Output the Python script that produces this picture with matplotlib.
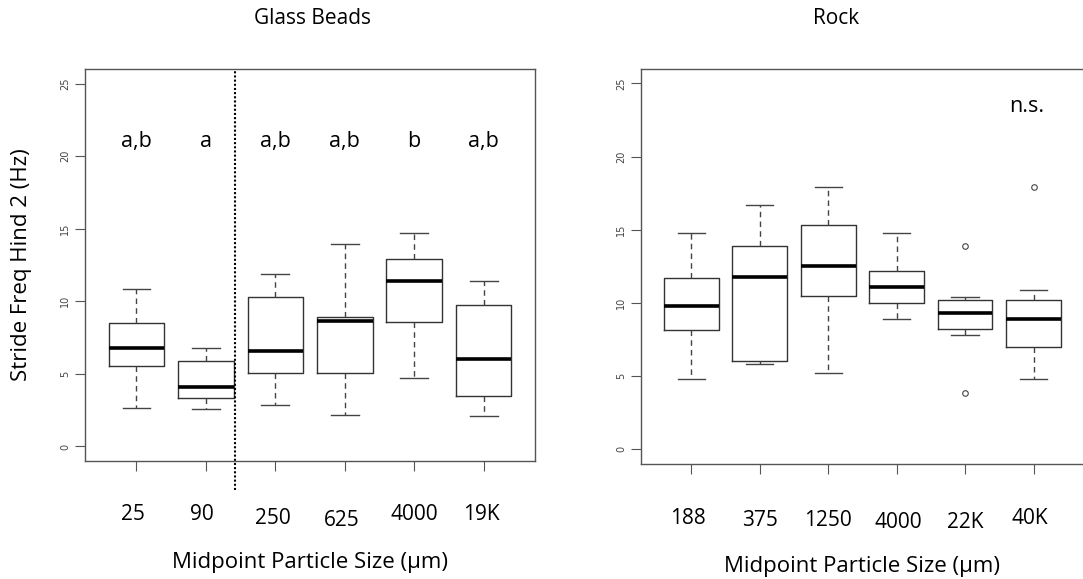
import matplotlib
matplotlib.use('Agg')
import matplotlib.pyplot as plt

plt.rcParams['font.family'] = ['Open Sans', 'DejaVu Sans']

# Glass beads: five-number summaries (lower whisker, Q1, median, Q3, upper whisker)
glass_labels = ['25', '90', '250', '625', '4000', '19K']
glass_low = [2.68, 2.56, 2.89, 2.15, 4.69, 2.08]
glass_q1 = [5.54, 3.32, 5.08, 5.03, 8.59, 3.51]
glass_med = [6.79, 4.11, 6.56, 8.66, 11.41, 6.03]
glass_q3 = [8.52, 5.91, 10.32, 8.91, 12.91, 9.72]
glass_high = [10.87, 6.79, 11.91, 13.92, 14.71, 11.41]
glass_letters = ['a,b', 'a', 'a,b', 'a,b', 'b', 'a,b']

# Rock
rock_labels = ['188', '375', '1250', '4000', '22K', '40K']
rock_low = [4.79, 5.82, 5.21, 8.90, 7.81, 4.84]
rock_q1 = [8.13, 6.07, 10.46, 10.00, 8.22, 7.01]
rock_med = [9.79, 11.76, 12.53, 11.10, 9.32, 8.93]
rock_q3 = [11.71, 13.90, 15.32, 12.19, 10.23, 10.23]
rock_high = [14.75, 16.69, 17.92, 14.75, 10.43, 10.89]
rock_fliers = [[], [], [], [], [13.9, 3.84], [17.9]]


def make_stats(low, q1, med, q3, high, fliers=None):
    stats = []
    for i in range(len(med)):
        stats.append({'whislo': low[i], 'q1': q1[i], 'med': med[i],
                      'q3': q3[i], 'whishi': high[i],
                      'fliers': fliers[i] if fliers else []})
    return stats


def draw_panel(ax, stats, labels, label_dx, label_dy):
    pos = list(range(1, len(stats) + 1))
    ax.bxp(stats, positions=pos, widths=0.8, capwidths=0.4, showfliers=True,
           boxprops=dict(color='#333333', linewidth=1.0),
           medianprops=dict(color='black', linewidth=2.6),
           whiskerprops=dict(color='#444444', linewidth=1.0, linestyle=(0, (4, 3))),
           capprops=dict(color='#444444', linewidth=1.0),
           flierprops=dict(marker='o', markersize=4, markerfacecolor='none',
                           markeredgecolor='#444444', markeredgewidth=0.8))
    ax.set_xlim(0.26, 6.74)
    ax.set_ylim(-1, 26)
    ax.set_yticks([0, 5, 10, 15, 20, 25])
    ax.set_yticklabels(['0', '5', '10', '15', '20', '25'], rotation=90,
                       va='center', fontsize=7, color='#444444',
                       family='DejaVu Sans')
    ax.set_xticks(pos)
    ax.set_xticklabels([])
    ax.tick_params(direction='out', length=7, width=0.8, color='#555555')
    for s in ax.spines.values():
        s.set_color('#555555')
        s.set_linewidth(1.0)
    for i, lab in enumerate(labels):
        ax.text(pos[i] + label_dx[i], -0.137 - label_dy[i], lab,
                transform=ax.get_xaxis_transform(),
                ha='center', va='center', fontsize=15)
    ax.text(0.5, -0.26, 'Midpoint Particle Size (µm)', transform=ax.transAxes,
            ha='center', va='center', fontsize=16)


fig = plt.figure(figsize=(10.83, 5.79), dpi=100)

ax1 = fig.add_axes([0.0785, 0.2038, 0.4155, 0.677])
draw_panel(ax1, make_stats(glass_low, glass_q1, glass_med, glass_q3, glass_high),
           glass_labels, [-0.05, -0.05, -0.03, -0.05, 0, -0.03],
           [0, 0, 0.01, 0.015, 0, 0])
for i, t in enumerate(glass_letters):
    ax1.text(i + 1, 21, t, ha='center', va='center', fontsize=15.5)
ax1.axvline(2.42, ymin=-0.074, ymax=1, color='black', linewidth=1.5,
            linestyle=(0, (1, 1)), clip_on=False)
ax1.set_ylabel('Stride Freq Hind 2 (Hz)', fontsize=16)
ax1.yaxis.set_label_coords(-0.118, 0.5)
fig.text(312 / 1083, 1 - 19 / 579, 'Glass Beads', ha='center', va='center',
         fontsize=15)

ax2 = fig.add_axes([0.5916, 0.1986, 0.4095, 0.6827])
draw_panel(ax2, make_stats(rock_low, rock_q1, rock_med, rock_q3, rock_high, rock_fliers),
           rock_labels, [-0.05, 0, 0, 0.03, 0, -0.05],
           [0, 0.005, 0.005, 0.01, 0.01, 0])
ax2.text(5.9, 23.4, 'n.s.', ha='center', va='center', fontsize=15.5)
fig.text(836 / 1083, 1 - 19 / 579, 'Rock', ha='center', va='center',
         fontsize=15)

fig.savefig('out.png', dpi=100)
